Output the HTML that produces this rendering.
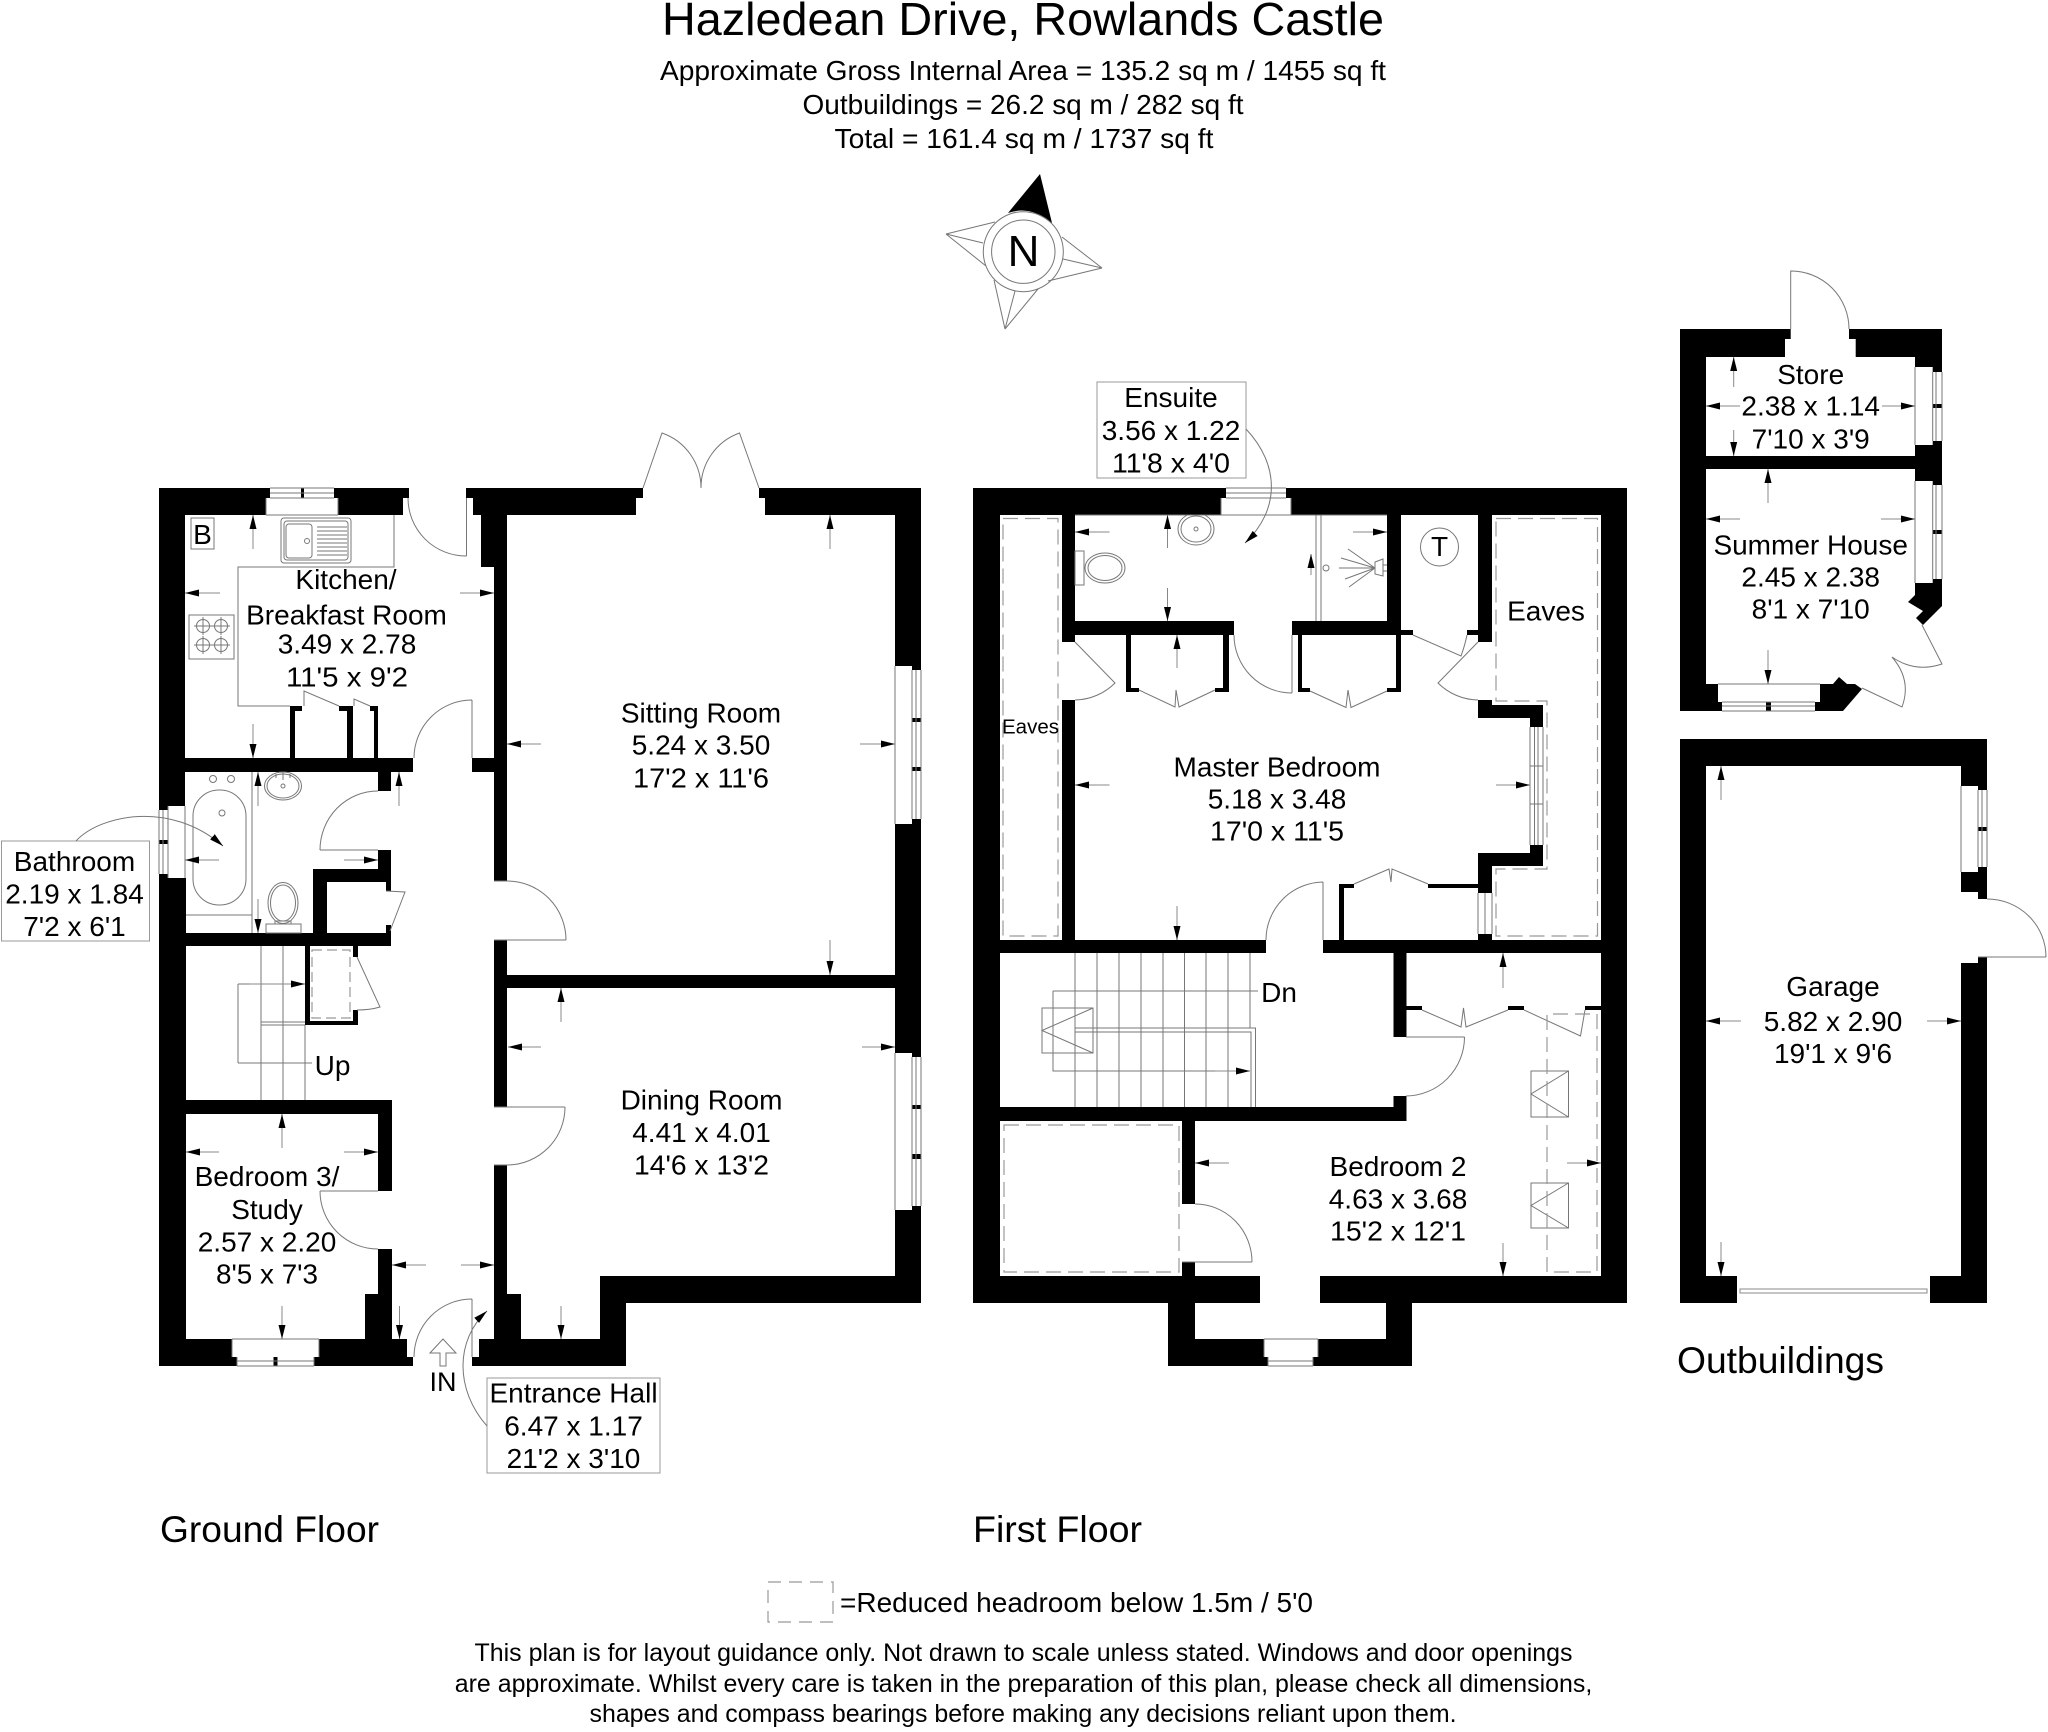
<!DOCTYPE html>
<html><head><meta charset="utf-8"><title>Hazledean Drive, Rowlands Castle</title>
<style>
html,body{margin:0;padding:0;background:#fff}
svg{display:block}
text{font-family:"Liberation Sans",Arial,sans-serif;font-size:28px;fill:#000;text-anchor:middle}
.t{fill:none;stroke:#777;stroke-width:1}
.d{fill:none;stroke:#999;stroke-width:1.2;stroke-dasharray:15 7}
.a{fill:none;stroke:#888;stroke-width:1;marker-end:url(#h)}
.b{fill:#fff;stroke:#999;stroke-width:1}
</style></head><body>
<svg xmlns="http://www.w3.org/2000/svg" width="2048" height="1732" viewBox="0 0 2048 1732">
<defs><marker id="h" markerUnits="userSpaceOnUse" markerWidth="14" markerHeight="8" refX="14" refY="4" orient="auto"><path d="M0,0.5L14,4L0,7.5Z" fill="#000"/></marker></defs>

<!-- HEADER -->
<text x="1023" y="35" style="font-size:46.6px" textLength="722" lengthAdjust="spacingAndGlyphs">Hazledean Drive, Rowlands Castle</text>
<text x="1023" y="80" textLength="726" lengthAdjust="spacingAndGlyphs">Approximate Gross Internal Area = 135.2 sq m / 1455 sq ft</text>
<text x="1023" y="114" textLength="441" lengthAdjust="spacingAndGlyphs">Outbuildings = 26.2 sq m / 282 sq ft</text>
<text x="1024" y="148" textLength="379" lengthAdjust="spacingAndGlyphs">Total = 161.4 sq m / 1737 sq ft</text>

<!-- COMPASS -->
<path d="M1040,174L1008,213Q1030,205 1052,223Z" fill="#000"/>
<path class="t" d="M946,234L995,222M946,234L986,266M946,234L983,243M1102,268L1062,237M1102,268L1048,281M1102,268L1063,259M1005,329L994,280M1005,329L1038,289M1005,329L1015,291"/>
<circle class="t" cx="1023.3" cy="251.7" r="40"/><circle class="t" cx="1023.3" cy="251.7" r="31.7"/>
<text x="1023.5" y="266" style="font-size:44px">N</text>

<!-- GROUND FLOOR WALLS -->
<g fill="#000">
<rect x="159" y="488" width="26" height="318"/><rect x="159" y="806" width="9" height="4"/><rect x="159" y="840" width="9" height="4"/><rect x="159" y="874" width="9" height="4"/><rect x="159" y="878" width="27" height="488"/>
<rect x="159" y="488" width="111" height="10"/><rect x="159" y="498" width="107" height="17"/><rect x="334" y="488" width="75" height="10"/><rect x="338" y="498" width="65" height="17"/><rect x="301" y="488" width="3" height="10"/>
<rect x="159" y="758" width="254" height="14"/><rect x="472" y="758" width="35" height="14"/>
<rect x="466" y="488" width="177" height="10"/><rect x="473" y="498" width="163" height="17"/><rect x="481" y="515" width="26" height="52"/><rect x="494" y="567" width="13" height="314"/><rect x="494" y="940" width="13" height="167"/><rect x="494" y="1165" width="13" height="129"/><rect x="494" y="1294" width="27" height="45"/>
<rect x="507" y="975" width="388" height="13"/>
<rect x="759" y="488" width="162" height="10"/><rect x="765" y="498" width="130" height="17"/><rect x="895" y="488" width="26" height="178"/><rect x="912" y="666" width="9" height="4"/><rect x="912" y="718" width="9" height="4"/><rect x="912" y="767" width="9" height="4"/><rect x="912" y="819" width="9" height="5"/><rect x="895" y="824" width="26" height="229"/><rect x="912" y="1053" width="9" height="4"/><rect x="912" y="1105" width="9" height="4"/><rect x="912" y="1154" width="9" height="5"/><rect x="912" y="1206" width="9" height="4"/><rect x="895" y="1210" width="26" height="93"/>
<rect x="600" y="1276" width="321" height="27"/><rect x="600" y="1303" width="26" height="36"/><rect x="479" y="1339" width="147" height="27"/><rect x="472" y="1357" width="7" height="9"/>
<rect x="159" y="1339" width="73" height="27"/><rect x="232" y="1357" width="5" height="9"/><rect x="319" y="1339" width="88" height="18"/><rect x="314" y="1357" width="99" height="9"/><rect x="273.5" y="1357" width="4" height="9"/>
<rect x="159" y="1100" width="233" height="14"/><rect x="378" y="1114" width="14" height="77"/><rect x="378" y="1249" width="14" height="45"/><rect x="365" y="1294" width="27" height="45"/>
<rect x="159" y="933" width="232" height="13"/><rect x="313" y="869" width="14" height="64"/><rect x="313" y="869" width="78" height="13"/><rect x="378" y="850" width="13" height="32"/><rect x="386" y="882" width="5" height="9"/><rect x="386" y="925" width="5" height="8"/><rect x="378" y="772" width="13" height="19"/>
<rect x="290" y="706" width="5" height="52"/><rect x="290" y="706" width="12" height="5"/><rect x="347" y="706" width="6" height="52"/><rect x="339" y="706" width="14" height="5"/><rect x="374" y="706" width="4" height="52"/><rect x="370" y="706" width="8" height="5"/>
<rect x="305" y="946" width="5" height="79"/><rect x="305" y="1021" width="53" height="4"/><rect x="353" y="946" width="5" height="11"/><rect x="353" y="1010" width="5" height="15"/>
</g>

<!-- GROUND FLOOR THIN LINES -->
<path class="t" d="M266,515H338M266,498V515M338,498V515M270,488H334M270,493H334M270,498H334
M466.5,498V556M466.5,556A58,58 0 0 1 408,498
M643,488L662,433A58,58 0 0 1 701,488M759,488L739.5,433A58,58 0 0 0 701,488
M472,700V758M414,758A58,58 0 0 1 472,700
M320,850H378M320,850A58,59 0 0 1 378,791
M494,940H566M566,940A59,59 0 0 0 507,881M494,881H507
M494,1107H565M565,1107A58,58 0 0 1 508,1165M494,1165H508
M378,1191H320M320,1191A58,58 0 0 0 378,1249
M472,1299V1357M414,1357A58,58 0 0 1 472,1299
M386,891L405,892L390,931
M357,957L380,1007Q370,1010 357,1010
M304,706L304,691L339,706M354,706L354,699L370,706
M895,666V824M912,670V819M916,670V819M921,670V819
M895,1053V1210M912,1057V1206M916,1057V1206M921,1057V1206
M168,806V878M159,810V874M163,810V874M185,806V878
M232,1339H319M232,1339V1357M319,1339V1357M237,1357V1366M314,1357V1366M237,1361H314M237,1366H314
M394,515V567H238V706H290
M186,915H252M252,772V933"/>
<rect class="t" x="191" y="518" width="23" height="31"/>
<text x="202.5" y="544" style="font-size:28px">B</text>
<rect class="t" x="281" y="518" width="70" height="45" rx="3"/><rect class="t" x="284" y="521" width="64" height="39" rx="3"/><rect class="t" x="286" y="524" width="26" height="34" rx="3"/>
<path class="t" d="M317,527H347M317,531H347M317,535H347M317,539H347M317,543H347M317,547H347M317,551H347M317,555H347"/><circle class="t" cx="307" cy="541" r="2.5"/>
<rect class="t" x="189" y="615" width="45" height="44"/>
<g class="t"><circle cx="203" cy="626" r="6.5"/><circle cx="221" cy="626" r="6.5"/><circle cx="203" cy="645" r="6.5"/><circle cx="221" cy="645" r="6.5"/></g>
<path class="t" d="M194,626H212M203,617V635M212,626H230M221,617V635M194,645H212M203,636V654M212,645H230M221,636V654"/>
<!-- bathroom fixtures -->
<rect class="t" x="193" y="790" width="53" height="115" rx="26"/>
<circle class="t" cx="213" cy="779" r="3.5"/><circle class="t" cx="231" cy="779" r="3.5"/><circle class="t" cx="222" cy="813" r="3"/>
<ellipse class="t" cx="283" cy="786" rx="18.5" ry="14"/><ellipse class="t" cx="283" cy="786" rx="16" ry="12"/><circle class="t" cx="283" cy="786" r="2"/><path class="t" d="M276,774v4M290,774v4M283,772v8"/>
<ellipse class="t" cx="283" cy="903" rx="15" ry="20.5"/><ellipse class="t" cx="283" cy="903" rx="12.5" ry="18"/><rect class="t" x="266" y="924" width="35" height="9"/><rect class="t" x="275" y="921" width="16" height="3"/>
<!-- stairs -->
<path class="t" d="M261,946V1100M283,946V1100M305,1025V1100M261,1022H305M261,1025H305M238,984V1063M238,984H300M238,1063H312"/>
<path class="a" d="M250,984H305"/>
<rect class="d" x="312" y="950" width="38" height="68" style="stroke-dasharray:10 5"/>
<text x="332.5" y="1075">Up</text>
<!-- IN arrow -->
<path class="t" d="M430,1353L443,1339L456,1353H446V1366H440V1353Z"/>
<text x="443" y="1391" style="font-size:27px">IN</text>

<!-- ground arrows -->
<path class="a" d="M253,549V515"/><path class="a" d="M253,724V758"/><path class="a" d="M220,593H185"/><path class="a" d="M460,593H494"/>
<path class="a" d="M830,549V515"/><path class="a" d="M830,940V975"/><path class="a" d="M541,744H507"/><path class="a" d="M860,744H895"/>
<path class="a" d="M258,806V772"/><path class="a" d="M399,806V772"/><path class="a" d="M219,860H185"/><path class="a" d="M344,860H378"/><path class="a" d="M258,899V933"/>
<path class="a" d="M282,1148V1114"/><path class="a" d="M219,1152H186"/><path class="a" d="M344,1152H378"/><path class="a" d="M282,1306V1339"/>
<path class="a" d="M426,1265H392"/><path class="a" d="M461,1265H494"/><path class="a" d="M399.5,1306V1339"/>
<path class="a" d="M561,1022V988"/><path class="a" d="M541,1047H508"/><path class="a" d="M862,1047H895"/><path class="a" d="M561,1306V1339"/>

<!-- ground labels -->
<text x="346" y="589">Kitchen/</text><text x="346.5" y="624.5">Breakfast Room</text><text x="347" y="653.5">3.49 x 2.78</text><text x="347" y="686.5" textLength="122" lengthAdjust="spacingAndGlyphs">11'5 x 9'2</text>
<text x="701" y="722.5">Sitting Room</text><text x="701" y="754.5">5.24 x 3.50</text><text x="701" y="787.5" textLength="136" lengthAdjust="spacingAndGlyphs">17'2 x 11'6</text>
<text x="267" y="1186">Bedroom 3/</text><text x="267" y="1219">Study</text><text x="267" y="1251.5">2.57 x 2.20</text><text x="267" y="1283.5" textLength="102" lengthAdjust="spacingAndGlyphs">8'5 x 7'3</text>
<text x="701.5" y="1109.5">Dining Room</text><text x="701.5" y="1142">4.41 x 4.01</text><text x="701.5" y="1174.5" textLength="135" lengthAdjust="spacingAndGlyphs">14'6 x 13'2</text>
<rect class="b" x="1.5" y="841" width="148" height="100"/>
<text x="74.5" y="871">Bathroom</text><text x="74.5" y="903.5">2.19 x 1.84</text><text x="74.5" y="936">7'2 x 6'1</text>
<path class="a" d="M76,841C100,815 170,800 223,846" style="stroke:#777"/>
<rect class="b" x="487" y="1378" width="173" height="95"/>
<text x="573.5" y="1402.5">Entrance Hall</text><text x="573.5" y="1435.5">6.47 x 1.17</text><text x="573.5" y="1468">21'2 x 3'10</text>
<path class="a" d="M487,1426C455,1390 455,1340 487,1311" style="stroke:#777"/>

<!-- FIRST FLOOR WALLS -->
<ellipse class="t" cx="1196" cy="529" rx="18" ry="16"/><ellipse class="t" cx="1196" cy="529" rx="15" ry="13"/><circle class="t" cx="1196" cy="529" r="2"/>
<g fill="#000">
<rect x="973" y="488" width="253" height="10"/><rect x="973" y="498" width="248" height="17"/><rect x="1286" y="488" width="341" height="10"/><rect x="1291" y="498" width="336" height="17"/>
<rect x="973" y="515" width="27" height="788"/><rect x="1601" y="515" width="26" height="788"/>
<rect x="973" y="1276" width="287" height="27"/><rect x="1320" y="1276" width="307" height="27"/>
<rect x="1062" y="515" width="13" height="127"/><rect x="1062" y="621" width="172" height="14"/><rect x="1062" y="700" width="13" height="240"/>
<rect x="1292" y="621" width="109" height="14"/><rect x="1401" y="630" width="12" height="5"/><rect x="1387" y="515" width="14" height="106"/><rect x="1478" y="515" width="14" height="127"/><rect x="1467" y="630" width="11" height="5"/>
<rect x="1126" y="635" width="5" height="56"/><rect x="1126" y="688" width="13" height="4"/><rect x="1223" y="635" width="6" height="56"/><rect x="1215" y="688" width="14" height="4"/>
<rect x="1298" y="635" width="4" height="56"/><rect x="1298" y="688" width="12" height="4"/><rect x="1396" y="635" width="5" height="56"/><rect x="1387" y="688" width="14" height="4"/>
<rect x="1478" y="700" width="14" height="18"/><rect x="1478" y="705" width="65" height="13"/><rect x="1530" y="705" width="13" height="22"/>
<rect x="1530" y="845" width="13" height="21"/><rect x="1478" y="853" width="65" height="13"/><rect x="1478" y="853" width="14" height="40"/><rect x="1478" y="934" width="14" height="6"/>
<rect x="1428" y="884" width="50" height="4"/><rect x="1339" y="884" width="5" height="56"/><rect x="1339" y="884" width="15" height="4"/>
<rect x="1000" y="940" width="266" height="13"/><rect x="1323" y="940" width="278" height="13"/>
<rect x="1393.5" y="953" width="13" height="84"/><rect x="1393.5" y="1096" width="13" height="25"/><rect x="1000" y="1107" width="406.5" height="14"/>
<rect x="1182" y="1121" width="13" height="83"/><rect x="1182" y="1262" width="13" height="14"/>
<rect x="1168" y="1303" width="27" height="63"/><rect x="1386" y="1303" width="26" height="63"/><rect x="1168" y="1339" width="96" height="18"/><rect x="1168" y="1357" width="100" height="9"/><rect x="1318" y="1339" width="94" height="18"/><rect x="1313" y="1357" width="99" height="9"/>
<rect x="1406" y="1006" width="16" height="4"/><rect x="1508" y="1006" width="16" height="4"/><rect x="1585" y="1006" width="16" height="4"/>
</g>

<!-- FIRST FLOOR THIN LINES -->
<path class="t" d="M1221,515H1291M1221,498V515M1291,498V515M1226,488H1286M1226,493H1286M1226,498H1286
M1292,635V693M1234,635A58,58 0 0 0 1292,693
M1075,642L1115,683A58,58 0 0 1 1075,700
M1478,642L1438,683A58,58 0 0 0 1478,700
M1413,635L1461,656Q1465,645 1467,635
M1323,882V940M1266,940A58,58 0 0 1 1323,882
M1406,1037H1464.5M1464.5,1037A59,59 0 0 1 1406,1096
M1182,1262H1252M1252,1262A57,58 0 0 0 1195,1204
M1139,690L1175,707L1176,690L1179,707L1215,690
M1310,691L1346,707.5L1348,690L1351,707.5L1387,691
M1354,884L1389,869L1391,882L1392,869L1428,884
M1422,1010L1461,1027L1463.5,1008L1466,1027L1508,1010M1524,1010L1580.5,1036L1585,1010
M1530,727V845M1534.5,727V845M1538,727V845M1543,727V845M1530,766H1543M1530,804H1543
M1478,893V934M1485,893V934M1492,893V934
M1264,1339H1318M1264,1339V1357M1318,1339V1357M1268,1357V1366M1313,1357V1366M1268,1361H1313M1268,1366H1313
M1075,515H1387
M1075,953V1107M1097,953V1107M1119,953V1107M1141,953V1107M1163,953V1107M1184.5,953V1107M1206,953V1107M1228,953V1107M1250,953V1028
M1053,991H1258M1053,991V1071H1250M1075,1028H1255.5V1107M1075,1032H1251V1107"/>
<path class="a" d="M1215,1071H1250"/>
<rect class="t" x="1042" y="1008" width="51" height="45"/><path class="t" d="M1093,1008L1042,1030.5L1093,1053"/>
<rect class="t" x="1531" y="1071" width="37.5" height="46"/><path class="t" d="M1568.5,1071L1531,1094L1568.5,1117"/>
<rect class="t" x="1531" y="1183" width="37.5" height="45"/><path class="t" d="M1568.5,1183L1531,1205.5L1568.5,1228"/>
<rect class="d" x="1003" y="518.5" width="55" height="417.5"/>
<path class="d" d="M1496,518.5H1597.5V936H1496V869H1547V701H1496Z"/>
<rect class="d" x="1004" y="1125" width="175" height="147"/>
<path class="d" d="M1547,1272V1014H1597V1272H1547"/>
<!-- ensuite fixtures -->
<ellipse class="t" cx="1105" cy="568" rx="20" ry="15"/><ellipse class="t" cx="1105" cy="568" rx="17" ry="12.5"/><rect class="t" x="1075" y="551" width="9" height="34"/>
<path class="t" d="M1316,515V621M1321,515V621"/><circle class="t" cx="1326" cy="568" r="3"/>
<path class="t" d="M1375,568L1348,549M1375,568L1341,558M1375,568L1339,568M1375,568L1345,579M1375,568L1349,587M1375,562L1383,559V576L1375,574ZM1383,565H1387M1383,571H1387"/>
<ellipse class="t" cx="1439.5" cy="547" rx="19" ry="19"/>
<text x="1439.5" y="556">T</text>

<!-- first arrows -->
<path class="a" d="M1109.5,532H1075"/><path class="a" d="M1353,532H1387"/><path class="a" d="M1167.5,548V515"/><path class="a" d="M1167.5,588V621"/><path class="a" d="M1311,575V554"/>
<path class="a" d="M1177,668V635"/><path class="a" d="M1177,906V940"/><path class="a" d="M1109.5,785H1075"/><path class="a" d="M1496,785H1530"/>
<path class="a" d="M1503,988V953"/><path class="a" d="M1503,1243V1276"/><path class="a" d="M1229,1163H1195"/><path class="a" d="M1567,1163H1601"/>

<!-- first labels -->
<rect class="b" x="1097" y="382" width="149" height="96"/>
<text x="1171" y="407">Ensuite</text><text x="1171" y="440">3.56 x 1.22</text><text x="1171" y="472.5" textLength="118" lengthAdjust="spacingAndGlyphs">11'8 x 4'0</text>
<path class="a" d="M1246,429C1280,465 1280,510 1245,543" style="stroke:#777"/>
<text x="1546" y="620.5">Eaves</text>
<text x="1030.5" y="733.5" style="font-size:20.5px">Eaves</text>
<text x="1277" y="776.5">Master Bedroom</text><text x="1277" y="808.5">5.18 x 3.48</text><text x="1277" y="840.5" textLength="134" lengthAdjust="spacingAndGlyphs">17'0 x 11'5</text>
<text x="1279" y="1002">Dn</text>
<text x="1398" y="1176">Bedroom 2</text><text x="1398" y="1208.5">4.63 x 3.68</text><text x="1398" y="1240.5" textLength="136" lengthAdjust="spacingAndGlyphs">15'2 x 12'1</text>

<!-- OUTBUILDINGS: STORE / SUMMER HOUSE -->
<g fill="#000">
<rect x="1680" y="329" width="26" height="382"/><rect x="1680" y="329" width="110.7" height="10"/><rect x="1680" y="339" width="105" height="18"/>
<rect x="1849" y="329" width="93" height="10"/><rect x="1855.7" y="339" width="86.3" height="18"/><rect x="1915" y="329" width="27" height="38"/><rect x="1932.7" y="367" width="9.3" height="5"/><rect x="1932.7" y="404" width="9.3" height="4"/><rect x="1932.7" y="441" width="9.3" height="4"/>
<rect x="1915" y="445" width="27" height="36"/><rect x="1706" y="456" width="209" height="13"/><rect x="1932.7" y="481" width="9.3" height="4"/><rect x="1932.7" y="530" width="9.3" height="4"/><rect x="1932.7" y="579" width="9.3" height="4"/>
<path d="M1915,583H1942V606L1923,625L1916,618L1923,611L1908,602L1915,595Z"/>
<path d="M1820,684H1833L1839,677L1847,684H1855L1862,689L1843,711H1815V702H1820Z"/>
<rect x="1680" y="684" width="38" height="18"/><rect x="1680" y="702" width="42" height="9"/><rect x="1766" y="702" width="5" height="9"/>
</g>
<path class="t" d="M1790.7,329V271A58,58 0 0 1 1849,329
M1915,367V445M1932.7,372V441M1936,372V441M1942,372V441
M1915,481V583M1932.7,485V579M1936,485V579M1942,485V579
M1922,625L1942,664Q1915,673 1892,657Q1912,680 1902,707L1862,688
M1718,684H1820M1722,702H1815M1722,706H1815M1722,711H1815"/>
<path class="a" d="M1733.7,387V357"/><path class="a" d="M1733.7,430V456"/><path class="a" d="M1740,406H1706"/><path class="a" d="M1882,406H1915"/>
<path class="a" d="M1768,503V469"/><path class="a" d="M1740,519H1706"/><path class="a" d="M1881,519H1915"/><path class="a" d="M1768,650V684"/>
<text x="1810.7" y="384">Store</text><text x="1810.7" y="415.5">2.38 x 1.14</text><text x="1810.7" y="448.5">7'10 x 3'9</text>
<text x="1810.7" y="554.5">Summer House</text><text x="1810.7" y="586.5">2.45 x 2.38</text><text x="1810.7" y="618.5">8'1 x 7'10</text>

<!-- GARAGE -->
<g fill="#000">
<rect x="1680" y="739" width="307" height="27"/><rect x="1680" y="739" width="26" height="564"/><rect x="1680" y="1276" width="57" height="27"/><rect x="1930" y="1276" width="57" height="27"/>
<rect x="1961" y="739" width="26" height="47"/><rect x="1978" y="786" width="9" height="4"/><rect x="1978" y="827" width="9" height="4"/><rect x="1978" y="867" width="9" height="32"/><rect x="1961" y="872" width="26" height="20"/>
<rect x="1978" y="957" width="9" height="6"/><rect x="1961" y="963" width="26" height="340"/>
</g>
<path class="t" d="M1961,786V872M1978,790V867M1982,790V867M1987,790V867M1978,957H2046M2046,957A59,58 0 0 0 1987,899"/>
<rect x="1740" y="1289" width="187" height="4" fill="#fff" stroke="#888" stroke-width="1"/>
<path class="a" d="M1721,800V766"/><path class="a" d="M1721,1242V1276"/><path class="a" d="M1741,1021H1706"/><path class="a" d="M1927,1021H1961"/>
<text x="1833" y="996">Garage</text><text x="1833" y="1031">5.82 x 2.90</text><text x="1833" y="1063">19'1 x 9'6</text>

<!-- FLOOR TITLES -->
<text x="1677" y="1373" style="font-size:37px;text-anchor:start" textLength="207" lengthAdjust="spacingAndGlyphs">Outbuildings</text>
<text x="160" y="1542" style="font-size:37px;text-anchor:start" textLength="219" lengthAdjust="spacingAndGlyphs">Ground Floor</text>
<text x="973" y="1542" style="font-size:37px;text-anchor:start" textLength="169" lengthAdjust="spacingAndGlyphs">First Floor</text>

<!-- LEGEND + NOTES -->
<rect class="d" x="768" y="1582" width="65" height="40" style="stroke-dasharray:13 8"/>
<text x="840" y="1612" style="text-anchor:start" textLength="473" lengthAdjust="spacingAndGlyphs">=Reduced headroom below 1.5m / 5'0</text>
<text x="1023.5" y="1661" style="font-size:25px" textLength="1098" lengthAdjust="spacingAndGlyphs">This plan is for layout guidance only. Not drawn to scale unless stated. Windows and door openings</text>
<text x="1023.5" y="1692" style="font-size:25px" textLength="1137.5" lengthAdjust="spacingAndGlyphs">are approximate. Whilst every care is taken in the preparation of this plan, please check all dimensions,</text>
<text x="1023" y="1722" style="font-size:25px" textLength="867" lengthAdjust="spacingAndGlyphs">shapes and compass bearings before making any decisions reliant upon them.</text>
</svg>
</body></html>
